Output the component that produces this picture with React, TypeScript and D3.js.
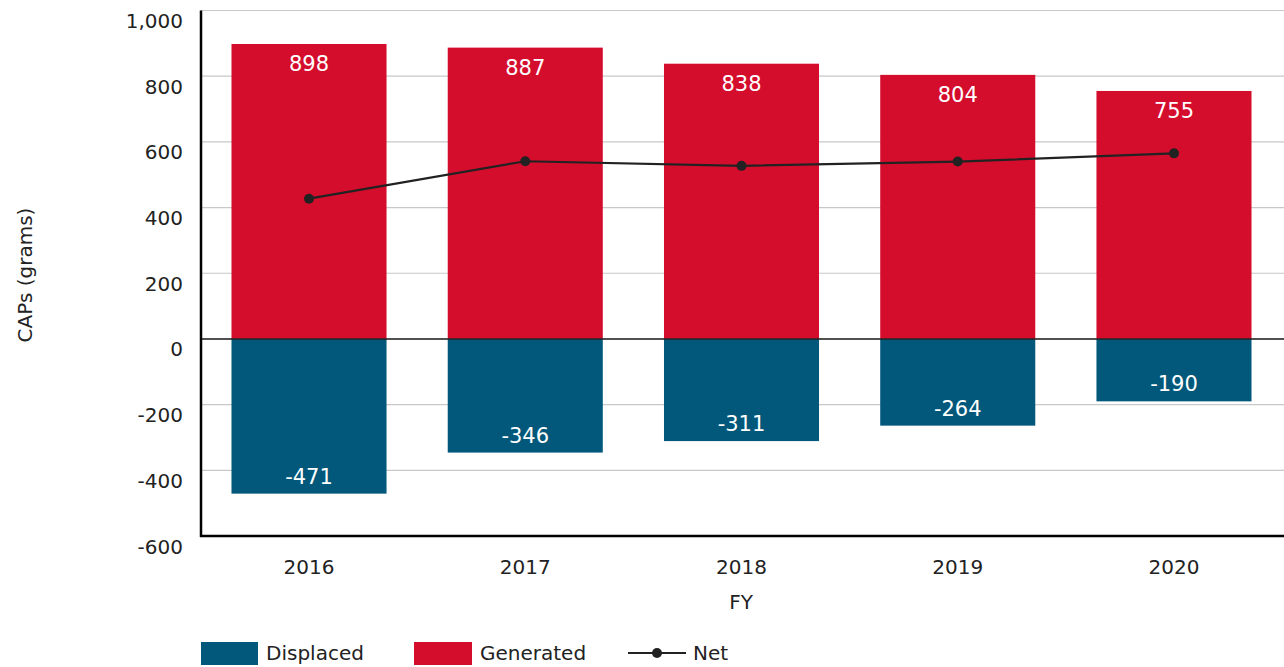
import React, { useEffect, useRef } from "react";
import * as d3 from "d3";

const years = ["2016", "2017", "2018", "2019", "2020"];
const generated = [898, 887, 838, 804, 755];
const displaced = [-471, -346, -311, -264, -190];
const net = [427, 541, 527, 540, 565];
const yTicks = [1000, 800, 600, 400, 200, 0, -200, -400, -600];

const RED = "#d50d2d";
const BLUE = "#01587a";
const FONT = "'DejaVu Sans', Verdana, sans-serif";

export default function App() {
  const ref = useRef<SVGSVGElement>(null);

  useEffect(() => {
    const svg = d3.select(ref.current);
    svg.selectAll("*").remove();

    const left = 201, right = 1282, top = 10.5, bottom = 536;

    const x = d3.scaleBand().domain(years).range([left, right]).paddingInner(0.283).paddingOuter(0.141);
    const y = d3.scaleLinear().domain([-600, 1000]).range([bottom, top]);
    const fmt = (v: number) => d3.format(",")(v).replace("\u2212", "-");

    // grid
    svg.append("g")
      .selectAll("line")
      .data(yTicks)
      .join("line")
      .attr("x1", left)
      .attr("x2", 1284)
      .attr("y1", d => y(d))
      .attr("y2", d => y(d))
      .attr("stroke", "#c8c8c8")
      .attr("stroke-width", 1.2);

    // y tick labels sit a bit below their gridlines
    svg.append("g")
      .selectAll("text")
      .data(yTicks)
      .join("text")
      .attr("x", 183)
      .attr("y", d => y(d) + 17.5)
      .attr("text-anchor", "end")
      .attr("font-family", FONT)
      .attr("font-size", 20)
      .attr("fill", "#222")
      .text(d => fmt(d));

    const rows = years.map((yr, i) => ({ yr, g: generated[i], d: displaced[i], n: net[i] }));

    svg.append("g")
      .selectAll("rect")
      .data(rows)
      .join("rect")
      .attr("x", d => x(d.yr)!)
      .attr("width", x.bandwidth())
      .attr("y", d => y(d.g))
      .attr("height", d => y(0) - y(d.g))
      .attr("fill", RED);

    svg.append("g")
      .selectAll("rect")
      .data(rows)
      .join("rect")
      .attr("x", d => x(d.yr)!)
      .attr("width", x.bandwidth())
      .attr("y", y(0))
      .attr("height", d => y(d.d) - y(0))
      .attr("fill", BLUE);

    // value labels
    const cx = (yr: string) => x(yr)! + x.bandwidth() / 2;
    svg.append("g")
      .selectAll("text")
      .data(rows)
      .join("text")
      .attr("x", d => cx(d.yr))
      .attr("y", d => y(d.g) + 27)
      .attr("text-anchor", "middle")
      .attr("font-family", FONT)
      .attr("font-size", 21)
      .attr("fill", "#fff")
      .text(d => fmt(d.g));

    svg.append("g")
      .selectAll("text")
      .data(rows)
      .join("text")
      .attr("x", d => cx(d.yr))
      .attr("y", d => y(d.d) - 10)
      .attr("text-anchor", "middle")
      .attr("font-family", FONT)
      .attr("font-size", 21)
      .attr("fill", "#fff")
      .text(d => fmt(d.d));

    // zero line
    svg.append("line")
      .attr("x1", left).attr("x2", 1284)
      .attr("y1", y(0)).attr("y2", y(0))
      .attr("stroke", "#222").attr("stroke-width", 1.6);

    // axis lines
    svg.append("line")
      .attr("x1", left).attr("x2", left)
      .attr("y1", top).attr("y2", bottom + 1)
      .attr("stroke", "#000").attr("stroke-width", 2.5);
    svg.append("line")
      .attr("x1", left - 1).attr("x2", 1284)
      .attr("y1", bottom).attr("y2", bottom)
      .attr("stroke", "#000").attr("stroke-width", 2.5);

    // net line
    const line = d3.line<typeof rows[0]>().x(d => cx(d.yr)).y(d => y(d.n));
    svg.append("path")
      .attr("d", line(rows))
      .attr("fill", "none")
      .attr("stroke", "#222")
      .attr("stroke-width", 2.2);
    svg.append("g")
      .selectAll("circle")
      .data(rows)
      .join("circle")
      .attr("cx", d => cx(d.yr))
      .attr("cy", d => y(d.n))
      .attr("r", 5)
      .attr("fill", "#222");

    // x tick labels
    svg.append("g")
      .selectAll("text")
      .data(years)
      .join("text")
      .attr("x", d => cx(d))
      .attr("y", 574)
      .attr("text-anchor", "middle")
      .attr("font-family", FONT)
      .attr("font-size", 20)
      .attr("fill", "#222")
      .text(d => d);

    svg.append("text")
      .attr("x", 741)
      .attr("y", 609)
      .attr("text-anchor", "middle")
      .attr("font-family", FONT)
      .attr("font-size", 20)
      .attr("fill", "#222")
      .text("FY");

    svg.append("text")
      .attr("transform", "translate(32, 275) rotate(-90)")
      .attr("text-anchor", "middle")
      .attr("font-family", FONT)
      .attr("font-size", 20)
      .attr("fill", "#222")
      .text("CAPs (grams)");

    // legend
    const lg = svg.append("g").attr("font-family", FONT).attr("font-size", 20).attr("fill", "#222");
    lg.append("rect").attr("x", 201).attr("y", 642).attr("width", 57).attr("height", 23).attr("fill", BLUE);
    lg.append("text").attr("x", 266).attr("y", 660).text("Displaced");
    lg.append("rect").attr("x", 414).attr("y", 642).attr("width", 58).attr("height", 23).attr("fill", RED);
    lg.append("text").attr("x", 480).attr("y", 660).text("Generated");
    lg.append("line").attr("x1", 628).attr("x2", 686).attr("y1", 653).attr("y2", 653).attr("stroke", "#222").attr("stroke-width", 2.2);
    lg.append("circle").attr("cx", 657).attr("cy", 653).attr("r", 5).attr("fill", "#222");
    lg.append("text").attr("x", 693).attr("y", 660).text("Net");
  }, []);

  return (
    <svg
      ref={ref}
      width={1284}
      height={667}
      style={{ position: "absolute", left: 0, top: 0, background: "#fff" }}
    />
  );
}
